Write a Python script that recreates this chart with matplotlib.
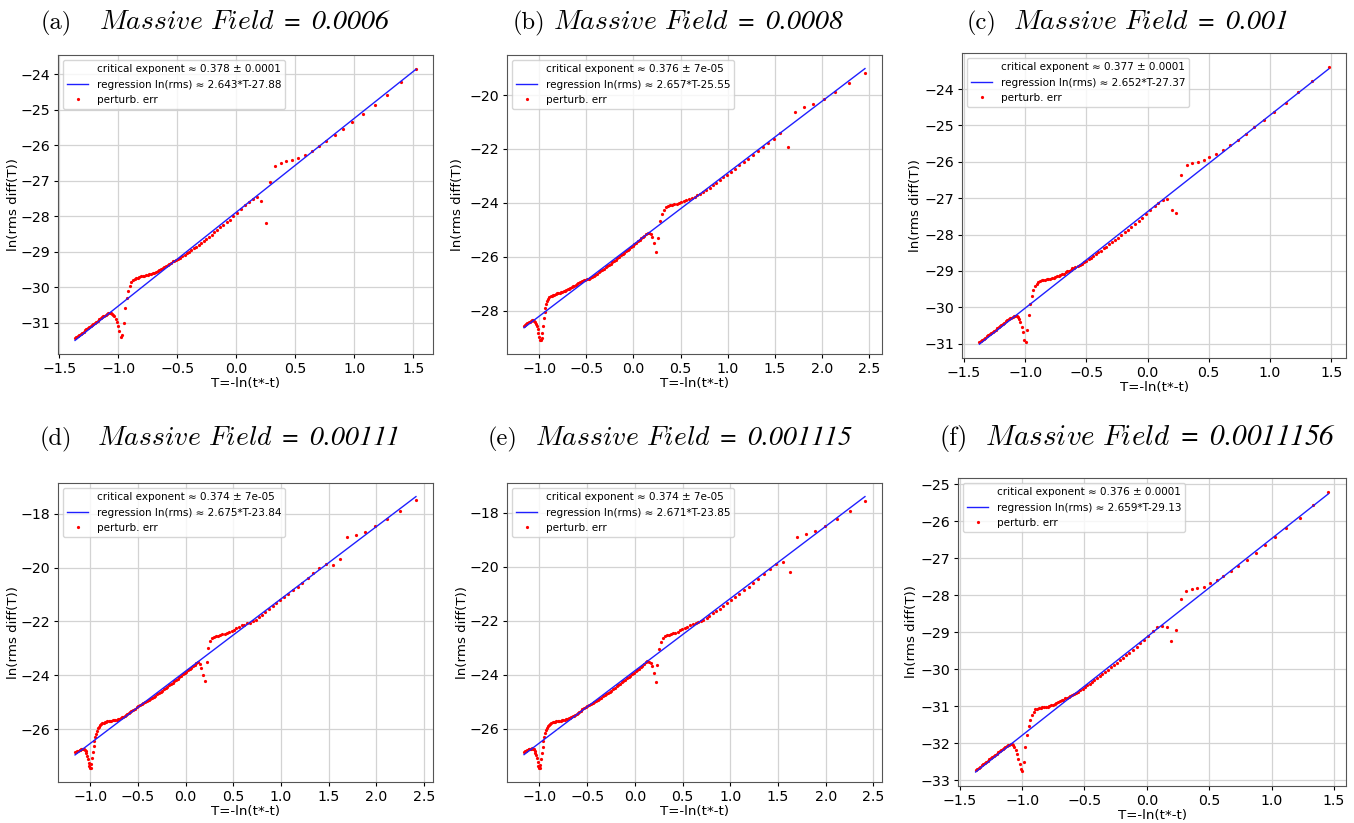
import matplotlib
matplotlib.use("Agg")
import matplotlib.pyplot as plt

plt.rcParams['font.family'] = ['DejaVu Sans']
plt.rcParams['mathtext.fontset'] = 'custom'
plt.rcParams['mathtext.it'] = 'cmmi10'
plt.rcParams['mathtext.rm'] = 'STIXGeneral:italic'

# ---------------- data ----------------
# (a) Massive Field = 0.0006
a_T = [-1.366, -1.354, -1.342, -1.330, -1.318, -1.306, -1.294, -1.282, -1.270, -1.258, -1.246, -1.234, -1.222, -1.210,
       -1.198, -1.186, -1.174, -1.162, -1.150, -1.139, -1.128, -1.117, -1.106, -1.095, -1.084, -1.073, -1.063, -1.053,
       -1.043,
       -1.033, -1.022, -1.012, -1.002, -0.991, -0.979, -0.966, -0.953, -0.940, -0.927, -0.914, -0.901, -0.888, -0.875,
       -0.862, -0.848, -0.834, -0.820, -0.806, -0.792, -0.778, -0.764, -0.750, -0.736, -0.722, -0.708, -0.694, -0.680,
       -0.666, -0.652, -0.638, -0.624, -0.610, -0.596, -0.582, -0.568, -0.554, -0.540,
       -0.526, -0.509, -0.492, -0.474, -0.456, -0.438, -0.419, -0.400, -0.381, -0.361, -0.341, -0.320, -0.299, -0.277,
       -0.255, -0.232, -0.209, -0.185, -0.160, -0.135, -0.109, -0.082, -0.054, -0.025, 0.005,
       0.037, 0.074, 0.107, 0.141, 0.175, 0.212, 0.252, 0.289, 0.331, 0.379, 0.424, 0.472, 0.526, 0.580, 0.639, 0.699,
       0.761, 0.832, 0.902, 0.984, 1.072, 1.171, 1.276, 1.395, 1.522]
a_y = [-31.43, -31.40, -31.37, -31.34, -31.30, -31.27, -31.24, -31.21, -31.18, -31.14, -31.11, -31.08, -31.05, -31.02,
       -30.99, -30.96, -30.93, -30.90, -30.87, -30.84, -30.81, -30.79, -30.77, -30.75, -30.73, -30.72, -30.72, -30.74,
       -30.77,
       -30.81, -30.88, -30.97, -31.08, -31.22, -31.40, -31.33, -31.00, -30.58, -30.30, -30.10, -29.95, -29.86, -29.79,
       -29.77, -29.74, -29.72, -29.70, -29.69, -29.68, -29.67, -29.66, -29.65, -29.63, -29.62, -29.60, -29.58, -29.56,
       -29.54, -29.51, -29.49, -29.46, -29.43, -29.40, -29.37, -29.33, -29.30, -29.26,
       -29.25, -29.22, -29.19, -29.16, -29.12, -29.08, -29.04, -28.99, -28.95, -28.90, -28.85, -28.80, -28.75, -28.69,
       -28.63, -28.57, -28.51, -28.45, -28.38, -28.31, -28.24, -28.17, -28.09, -28.00, -27.91,
       -27.80, -27.69, -27.59, -27.51, -27.45, -27.56, -28.18, -27.04, -26.58, -26.50, -26.45, -26.41, -26.35, -26.27,
       -26.15, -26.03, -25.87, -25.71, -25.53, -25.33, -25.11, -24.86, -24.57, -24.23, -23.84]
a_line_T = [-1.366, 1.522]
a_line_y = [-31.49, -23.86]

# (b) Massive Field = 0.0008
b_T = [-1.161, -1.149, -1.137, -1.125, -1.113, -1.101, -1.089, -1.077, -1.066, -1.055, -1.045, -1.035, -1.026, -1.017,
       -1.008, -0.999, -0.991, -0.983, -0.975, -0.967, -0.959, -0.951, -0.943, -0.934, -0.925, -0.915, -0.904, -0.893,
       -0.880, -0.866, -0.852, -0.838, -0.824, -0.810, -0.796, -0.782, -0.768, -0.754, -0.740, -0.726, -0.712, -0.698,
       -0.684, -0.670, -0.656, -0.642, -0.628, -0.614, -0.600, -0.586, -0.572, -0.558, -0.544, -0.530,
       -0.512, -0.494, -0.476, -0.458, -0.440, -0.422, -0.404, -0.386, -0.368, -0.350, -0.332, -0.314, -0.296, -0.278,
       -0.260, -0.242, -0.224, -0.206, -0.188, -0.170, -0.152, -0.134, -0.116, -0.098, -0.080, -0.062, -0.044, -0.026,
       -0.008, 0.010, 0.028, 0.046, 0.064, 0.082, 0.100, 0.117, 0.134, 0.151,
       0.168, 0.184, 0.200, 0.217, 0.235, 0.256, 0.278,
       0.299, 0.320, 0.342, 0.364, 0.387, 0.410, 0.434, 0.458, 0.483, 0.509, 0.535, 0.562, 0.590, 0.619, 0.648, 0.678,
       0.709, 0.741, 0.774, 0.808, 0.843, 0.879, 0.916, 0.954, 0.994, 1.035, 1.078, 1.122, 1.168, 1.216, 1.266, 1.318,
       1.372, 1.428, 1.486, 1.556, 1.637, 1.718, 1.807, 1.909, 2.018, 2.142, 2.283, 2.456]
b_y = [-28.56, -28.52, -28.49, -28.46, -28.43, -28.40, -28.38, -28.36, -28.36, -28.38, -28.42, -28.49, -28.57, -28.68,
       -28.82, -28.97, -29.07, -29.10, -29.02, -28.82, -28.56, -28.28, -28.05, -27.88, -27.74, -27.64, -27.56, -27.50,
       -27.47, -27.44, -27.42, -27.40, -27.38, -27.36, -27.35, -27.33, -27.31, -27.29, -27.27, -27.25, -27.23, -27.21,
       -27.18, -27.16, -27.13, -27.10, -27.07, -27.04, -27.01, -26.98, -26.95, -26.92, -26.89, -26.86,
       -26.87, -26.84, -26.81, -26.78, -26.74, -26.70, -26.66, -26.62, -26.58, -26.53, -26.49, -26.44, -26.39, -26.35,
       -26.30, -26.25, -26.20, -26.15, -26.10, -26.05, -26.00, -25.95, -25.90, -25.85, -25.80, -25.75, -25.70, -25.64,
       -25.59, -25.53, -25.47, -25.42, -25.37, -25.32, -25.27, -25.22, -25.17, -25.13,
       -25.12, -25.16, -25.28, -25.49, -25.84, -25.31, -24.69,
       -24.40, -24.25, -24.17, -24.12, -24.09, -24.07, -24.05, -24.03, -24.00, -23.97, -23.93, -23.89, -23.85, -23.81,
       -23.77, -23.72, -23.66, -23.59, -23.51, -23.43, -23.34, -23.25, -23.15, -23.05, -22.95, -22.84, -22.73, -22.61,
       -22.49, -22.36, -22.23, -22.09, -21.94, -21.79, -21.62, -21.40, -21.91, -20.63, -20.44, -20.34, -20.15, -19.90,
       -19.56, -19.20]
b_line_T = [-1.161, 2.456]
b_line_y = [-28.63, -19.02]

# (c) Massive Field = 0.001
c_T = [-1.373, -1.361, -1.349, -1.337, -1.325, -1.313, -1.301, -1.289, -1.277, -1.265, -1.253, -1.241, -1.229, -1.217,
       -1.205, -1.193, -1.181, -1.169, -1.157, -1.146, -1.135, -1.124, -1.113, -1.102, -1.091, -1.080, -1.070, -1.060,
       -1.050, -1.040, -1.029, -1.018, -1.006, -0.994, -0.981, -0.969, -0.957, -0.945, -0.932, -0.919, -0.906, -0.893,
       -0.880, -0.866, -0.852, -0.838, -0.824, -0.810, -0.796, -0.782, -0.768, -0.754, -0.740, -0.726, -0.712, -0.698,
       -0.684, -0.670, -0.656, -0.642, -0.628, -0.614, -0.601,
       -0.589, -0.572, -0.555, -0.537, -0.519, -0.500, -0.481, -0.462, -0.442, -0.422, -0.401, -0.380, -0.358, -0.336,
       -0.313, -0.289, -0.265, -0.240, -0.214, -0.188, -0.161, -0.133, -0.104, -0.074, -0.043, -0.011,
       0.022, 0.057, 0.089, 0.127, 0.162, 0.197, 0.235, 0.276, 0.319, 0.362, 0.408, 0.457, 0.505, 0.559, 0.614, 0.673,
       0.738, 0.803, 0.873, 0.951, 1.035, 1.127, 1.227, 1.346, 1.478]
c_y = [-30.96, -30.93, -30.90, -30.86, -30.83, -30.80, -30.77, -30.74, -30.70, -30.67, -30.64, -30.61, -30.58, -30.54,
       -30.51, -30.48, -30.45, -30.42, -30.38, -30.35, -30.33, -30.30, -30.28, -30.26, -30.24, -30.23, -30.24, -30.27,
       -30.33, -30.41, -30.53, -30.68, -30.90, -30.96, -30.62, -30.22, -29.90, -29.68, -29.53, -29.42, -29.35, -29.31,
       -29.28, -29.26, -29.25, -29.24, -29.23, -29.22, -29.21, -29.20, -29.19, -29.17, -29.15, -29.13, -29.11, -29.09,
       -29.07, -29.04, -29.01, -28.99, -28.96, -28.93, -28.91,
       -28.89, -28.87, -28.84, -28.80, -28.76, -28.72, -28.68, -28.64, -28.59, -28.54, -28.49, -28.44, -28.38, -28.33,
       -28.27, -28.21, -28.14, -28.08, -28.01, -27.94, -27.86, -27.79, -27.71, -27.62, -27.53, -27.43,
       -27.31, -27.22, -27.13, -27.04, -27.02, -27.31, -27.41, -26.35, -26.10, -26.04, -26.01, -25.96, -25.88, -25.79,
       -25.68, -25.55, -25.39, -25.24, -25.05, -24.85, -24.63, -24.39, -24.09, -23.77, -23.39]
c_line_T = [-1.373, 1.478]
c_line_y = [-31.01, -23.45]

# (d) Massive Field = 0.00111
d_T = [-1.162, -1.149, -1.137, -1.126, -1.115, -1.105, -1.095, -1.086, -1.077, -1.068, -1.059, -1.050, -1.042, -1.034,
       -1.026, -1.018, -1.011, -1.004, -0.997, -0.990, -0.983, -0.976, -0.968, -0.960, -0.951, -0.942, -0.932, -0.921,
       -0.910, -0.898,
       -0.887, -0.875, -0.863, -0.850, -0.836, -0.822, -0.808, -0.794, -0.780, -0.766, -0.752, -0.738, -0.724, -0.710,
       -0.696, -0.682, -0.668, -0.654, -0.640, -0.626, -0.612, -0.598, -0.584, -0.570,
       -0.552, -0.534, -0.516, -0.498, -0.480, -0.462, -0.444, -0.426, -0.408, -0.390, -0.372, -0.354, -0.336, -0.318,
       -0.300, -0.282, -0.264, -0.246, -0.228, -0.210, -0.192, -0.174, -0.156, -0.138, -0.120, -0.102, -0.084, -0.066,
       -0.048, -0.030, -0.012, 0.006, 0.024, 0.042, 0.060, 0.078,
       0.095, 0.112, 0.129, 0.146, 0.164, 0.182, 0.200, 0.219, 0.238, 0.258, 0.278, 0.299, 0.320, 0.341, 0.363, 0.385,
       0.408, 0.432, 0.456, 0.481, 0.506, 0.532, 0.559, 0.587, 0.615, 0.644, 0.674,
       0.705, 0.736, 0.768, 0.803, 0.837, 0.876, 0.914, 0.953, 0.994, 1.036, 1.078, 1.127, 1.176, 1.225, 1.281, 1.340,
       1.403, 1.472, 1.542, 1.616, 1.699, 1.790, 1.888, 1.989, 2.111, 2.251, 2.418]
d_y = [-26.86, -26.83, -26.81, -26.79, -26.77, -26.75, -26.73, -26.72, -26.72, -26.74, -26.77, -26.82, -26.89, -26.98,
       -27.10, -27.24, -27.36, -27.45, -27.44, -27.30, -27.08, -26.85, -26.63, -26.45, -26.30, -26.17, -26.05, -25.97,
       -25.90, -25.84,
       -25.80, -25.77, -25.75, -25.73, -25.72, -25.71, -25.70, -25.69, -25.68, -25.67, -25.66, -25.65, -25.64, -25.62,
       -25.60, -25.58, -25.56, -25.53, -25.50, -25.47, -25.43, -25.39, -25.35, -25.31,
       -25.27, -25.23, -25.19, -25.15, -25.11, -25.07, -25.03, -24.99, -24.95, -24.91, -24.87, -24.83, -24.79, -24.75,
       -24.70, -24.66, -24.61, -24.57, -24.52, -24.47, -24.42, -24.37, -24.32, -24.27, -24.22, -24.17, -24.12, -24.07,
       -24.02, -23.96, -23.91, -23.86, -23.81, -23.76, -23.71, -23.65,
       -23.60, -23.55, -23.52, -23.56, -23.72, -24.00, -24.20, -23.50, -22.98, -22.72, -22.61, -22.57, -22.55, -22.53,
       -22.51, -22.48, -22.45, -22.42, -22.38, -22.34, -22.30, -22.25, -22.20, -22.15, -22.12, -22.07, -22.04,
       -22.00, -21.93, -21.85, -21.75, -21.64, -21.54, -21.42, -21.31, -21.20, -21.10, -20.98, -20.84, -20.73, -20.56,
       -20.39, -20.22, -20.03, -19.86, -19.89, -19.69, -18.88, -18.81, -18.69, -18.47, -18.21, -17.90, -17.50]
d_line_T = [-1.162, 2.418]
d_line_y = [-26.95, -17.37]

# (e) Massive Field = 0.001115
e_T = [-1.161, -1.148, -1.136, -1.125, -1.114, -1.104, -1.094, -1.085, -1.076, -1.067, -1.058, -1.049, -1.041, -1.033,
       -1.025, -1.017, -1.010, -1.003, -0.996, -0.989, -0.982, -0.975, -0.967, -0.959, -0.950, -0.941, -0.931, -0.920,
       -0.909, -0.897,
       -0.886, -0.874, -0.862, -0.849, -0.835, -0.821, -0.807, -0.793, -0.779, -0.765, -0.751, -0.737, -0.723, -0.709,
       -0.695, -0.681, -0.667, -0.653, -0.639, -0.625, -0.611, -0.597, -0.583, -0.569,
       -0.551, -0.533, -0.515, -0.497, -0.479, -0.461, -0.443, -0.425, -0.407, -0.389, -0.371, -0.353, -0.335, -0.317,
       -0.299, -0.281, -0.263, -0.245, -0.227, -0.209, -0.191, -0.173, -0.155, -0.137, -0.119, -0.101, -0.083, -0.065,
       -0.047, -0.029, -0.011, 0.007, 0.025, 0.043, 0.061, 0.079,
       0.097, 0.114, 0.131, 0.148, 0.165, 0.182, 0.199, 0.218, 0.236, 0.254, 0.272, 0.291, 0.312, 0.333, 0.355, 0.377,
       0.400, 0.424, 0.448, 0.473, 0.498, 0.524, 0.551, 0.579, 0.607, 0.636, 0.666, 0.697,
       0.719, 0.751, 0.782, 0.818, 0.853, 0.888, 0.926, 0.965, 1.007, 1.049, 1.095, 1.144, 1.193, 1.242, 1.295, 1.354,
       1.414, 1.477, 1.551, 1.621, 1.702, 1.789, 1.891, 1.996, 2.119, 2.253, 2.411]
e_y = [-26.86, -26.83, -26.81, -26.78, -26.76, -26.75, -26.74, -26.73, -26.72, -26.73, -26.76, -26.81, -26.88, -26.97,
       -27.09, -27.23, -27.36, -27.46, -27.46, -27.33, -27.12, -26.90, -26.66, -26.46, -26.30, -26.15, -26.03, -25.95,
       -25.89, -25.84,
       -25.80, -25.78, -25.76, -25.75, -25.73, -25.72, -25.71, -25.70, -25.69, -25.68, -25.67, -25.66, -25.64, -25.63,
       -25.61, -25.59, -25.56, -25.54, -25.51, -25.48, -25.44, -25.40, -25.36, -25.32,
       -25.28, -25.24, -25.20, -25.16, -25.12, -25.08, -25.04, -25.00, -24.96, -24.92, -24.88, -24.84, -24.80, -24.76,
       -24.71, -24.67, -24.62, -24.58, -24.53, -24.48, -24.43, -24.38, -24.33, -24.28, -24.23, -24.18, -24.13, -24.08,
       -24.03, -23.97, -23.92, -23.87, -23.82, -23.77, -23.72, -23.66,
       -23.60, -23.54, -23.50, -23.51, -23.56, -23.68, -23.93, -24.25, -23.62, -23.04, -22.77, -22.63, -22.57, -22.54,
       -22.52, -22.50, -22.47, -22.44, -22.40, -22.36, -22.32, -22.27, -22.22, -22.17, -22.13, -22.08, -22.04, -22.02,
       -21.97, -21.90, -21.82, -21.73, -21.64, -21.55, -21.45, -21.35, -21.24, -21.13, -21.01, -20.88, -20.75, -20.61,
       -20.46, -20.28, -20.10, -19.91, -19.82, -20.20, -18.90, -18.80, -18.69, -18.49, -18.25, -17.93, -17.56]
e_line_T = [-1.161, 2.411]
e_line_y = [-26.95, -17.41]

# (f) Massive Field = 0.0011156
f_T = [-1.373, -1.361, -1.349, -1.337, -1.325, -1.313, -1.301, -1.289, -1.277, -1.265, -1.253, -1.241, -1.229, -1.217,
       -1.205, -1.193, -1.181, -1.169, -1.157, -1.146, -1.135, -1.124, -1.113, -1.102, -1.092, -1.082,
       -1.072, -1.062, -1.052, -1.042, -1.031, -1.020, -1.009, -0.998, -0.987, -0.975, -0.962, -0.949, -0.935, -0.921,
       -0.907,
       -0.893, -0.879, -0.865, -0.851, -0.837, -0.823, -0.809, -0.795, -0.781, -0.767, -0.753, -0.739, -0.725, -0.711,
       -0.697, -0.683, -0.669, -0.655, -0.641, -0.627, -0.613, -0.600,
       -0.585, -0.568, -0.551, -0.533, -0.515, -0.497, -0.478, -0.459, -0.440, -0.420, -0.400, -0.379, -0.358, -0.336,
       -0.314, -0.291, -0.267, -0.243, -0.218, -0.192, -0.166, -0.139, -0.111, -0.082, -0.052, -0.021, 0.012,
       0.046, 0.083, 0.121, 0.159, 0.197, 0.237, 0.272, 0.315, 0.361, 0.406, 0.455, 0.506, 0.560, 0.614, 0.673, 0.735,
       0.802, 0.872, 0.950, 1.031, 1.120, 1.225, 1.335, 1.456]
f_y = [-32.73, -32.70, -32.67, -32.64, -32.60, -32.57, -32.54, -32.51, -32.48, -32.44, -32.41, -32.38, -32.35, -32.32,
       -32.28, -32.25, -32.22, -32.19, -32.16, -32.13, -32.10, -32.08, -32.06, -32.04, -32.03, -32.02,
       -32.04, -32.10, -32.19, -32.30, -32.43, -32.57, -32.70, -32.76, -32.50, -32.10, -31.77, -31.54, -31.37, -31.24,
       -31.15,
       -31.09, -31.07, -31.05, -31.04, -31.03, -31.03, -31.02, -31.01, -31.00, -30.98, -30.96, -30.94, -30.92, -30.89,
       -30.87, -30.84, -30.82, -30.79, -30.77, -30.75, -30.72, -30.70,
       -30.67, -30.64, -30.61, -30.57, -30.53, -30.49, -30.44, -30.39, -30.34, -30.29, -30.24, -30.18, -30.13, -30.07,
       -30.01, -29.95, -29.89, -29.83, -29.76, -29.69, -29.62, -29.55, -29.47, -29.39, -29.30, -29.21, -29.11,
       -28.97, -28.87, -28.83, -28.85, -29.25, -28.94, -28.09, -27.90, -27.84, -27.81, -27.77, -27.68, -27.59, -27.48,
       -27.34, -27.20, -27.04, -26.85, -26.65, -26.42, -26.18, -25.90, -25.56, -25.21]
f_line_T = [-1.373, 1.456]
f_line_y = [-32.78, -25.26]

letters = ['(a)', '(b)', '(c)', '(d)', '(e)', '(f)']
fields = ['0.0006', '0.0008', '0.001', '0.00111', '0.001115', '0.0011156']
crit_labels = ['critical exponent \u2248 0.378 \u00b1 0.0001', 'critical exponent \u2248 0.376 \u00b1 7e-05',
               'critical exponent \u2248 0.377 \u00b1 0.0001', 'critical exponent \u2248 0.374 \u00b1 7e-05',
               'critical exponent \u2248 0.374 \u00b1 7e-05', 'critical exponent \u2248 0.376 \u00b1 0.0001']
reg_labels = ['regression ln(rms) \u2248 2.643*T-27.88', 'regression ln(rms) \u2248 2.657*T-25.55',
              'regression ln(rms) \u2248 2.652*T-27.37', 'regression ln(rms) \u2248 2.675*T-23.84',
              'regression ln(rms) \u2248 2.671*T-23.85', 'regression ln(rms) \u2248 2.659*T-29.13']
xticks_ab = [-1.5, -1.0, -0.5, 0.0, 0.5, 1.0, 1.5]
xticks_long = [-1.0, -0.5, 0.0, 0.5, 1.0, 1.5, 2.0, 2.5]
yticks_a = [-31, -30, -29, -28, -27, -26, -25, -24]
yticks_b = [-28, -26, -24, -22, -20]
yticks_c = [-31, -30, -29, -28, -27, -26, -25, -24]
yticks_d = [-26, -24, -22, -20, -18]
yticks_e = [-26, -24, -22, -20, -18]
yticks_f = [-33, -32, -31, -30, -29, -28, -27, -26, -25]

# ---------------- layout (pixels) ----------------
W, H = 1354, 823
fig = plt.figure(figsize=(W / 100, H / 100), dpi=100)

# left, top, right, bottom in pixels
boxes = [(58, 55, 433, 354), (507, 55, 882, 354), (962, 53, 1346, 358),
         (58, 483, 433, 782), (507, 483, 882, 782), (958, 478, 1346, 786)]
ylabel_x = [20, 464, 922, 20, 469, 918]
title_pos = [(41, 99, 29), (513, 553, 29), (967, 1013, 29),
             (40, 97, 445), (488, 535, 445), (940, 985, 445)]
title_size = [19.9, 19.9, 19.9, 19.9, 19.9, 21.0]

panels = [
    (a_T, a_y, a_line_T, a_line_y, xticks_ab, yticks_a),
    (b_T, b_y, b_line_T, b_line_y, xticks_long, yticks_b),
    (c_T, c_y, c_line_T, c_line_y, xticks_ab, yticks_c),
    (d_T, d_y, d_line_T, d_line_y, xticks_long, yticks_d),
    (e_T, e_y, e_line_T, e_line_y, xticks_long, yticks_e),
    (f_T, f_y, f_line_T, f_line_y, xticks_ab, yticks_f),
]

for i, (T, y, lT, ly, xt, yt) in enumerate(panels):
    l, t, r, b = boxes[i]
    ax = fig.add_axes([l / W, 1 - b / H, (r - l) / W, (b - t) / H])
    h0, = ax.plot([], [], ' ', label=crit_labels[i])
    h1, = ax.plot(lT, ly, '-', color='#1f1fff', lw=1.0, zorder=3, label=reg_labels[i])
    h2, = ax.plot(T, y, 'o', color='red', ms=2.3, mew=0, ls='none', zorder=2, label='perturb. err')
    ax.set_xticks(xt)
    ax.set_yticks(yt)
    ax.grid(True, color='#d3d3d3', lw=0.9)
    ax.set_axisbelow(True)
    ax.tick_params(labelsize=10.2, length=3, pad=2.5)
    for s in ax.spines.values():
        s.set_color('#555555')
    ax.set_xlabel('T=-ln(t*-t)', fontsize=9.6, labelpad=1)
    ax.set_ylabel('ln(rms diff(T))', fontsize=9.6)
    ax.yaxis.set_label_coords((ylabel_x[i] - l) / (r - l), 0.5)
    ax.legend(handles=[h0, h1, h2], loc='upper left', fontsize=7.5)

    lx, mx, by = title_pos[i]
    fig.text(lx / W, 1 - by / H, letters[i], fontfamily='cmr10', fontsize=title_size[i] - 2.3,
             va='baseline', ha='left')
    fig.text(mx / W, 1 - by / H, r'$Massive\ Field\:=\:' + fields[i] + '$', fontsize=title_size[i],
             va='baseline', ha='left')

fig.savefig('out.png', dpi=100)
